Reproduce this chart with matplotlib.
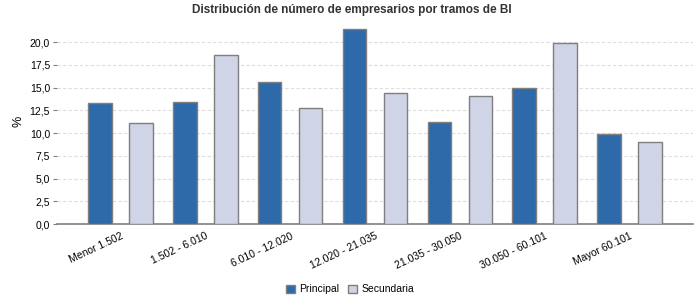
import matplotlib
matplotlib.use("Agg")
import matplotlib.pyplot as plt
import numpy as np
from matplotlib.ticker import FuncFormatter

plt.rcParams['font.family'] = ['Liberation Sans', 'DejaVu Sans']

categories = ["Menor 1.502", "1.502 - 6.010", "6.010 - 12.020", "12.020 - 21.035",
              "21.035 - 30.050", "30.050 - 60.101", "Mayor 60.101"]
principal = [13.3, 13.4, 15.6, 21.4, 11.2, 15.0, 9.9]
secundaria = [11.1, 18.6, 12.8, 14.4, 14.1, 19.9, 9.0]
yticks = [0.0, 2.5, 5.0, 7.5, 10.0, 12.5, 15.0, 17.5, 20.0]
series_names = ["Principal", "Secundaria"]
title = "Distribución de número de empresarios por tramos de BI"

fig = plt.figure(figsize=(7, 3), dpi=100)
ax = fig.add_axes([0.0814, 0.2533, 0.9086, 0.6823])

x = np.arange(len(categories))
w = 0.276
off = 0.242
ax.bar(x - off, principal, width=w, color="#2E69AA", edgecolor="#7f7f7f", linewidth=1, label=series_names[0], zorder=3)
ax.bar(x + off, secundaria, width=w, color="#CFD4E6", edgecolor="#7f7f7f", linewidth=1, label=series_names[1], zorder=3)

ax.set_xlim(-0.75, len(categories) - 0.25)
ax.set_ylim(0, 22.5)
ax.set_yticks(yticks)
ax.yaxis.set_major_formatter(FuncFormatter(lambda v, p: f"{v:.1f}".replace(".", ",")))
ax.grid(axis="y", color="#dddddd", linestyle=(0, (3, 2)), linewidth=0.8, zorder=0)

for s in ["top", "right", "left"]:
    ax.spines[s].set_visible(False)
ax.spines["bottom"].set_color("#7f7f7f")
ax.spines["bottom"].set_linewidth(1.2)
ax.tick_params(axis="y", length=3, color="#7f7f7f", labelsize=7.5, pad=2)
ax.tick_params(axis="x", length=0, labelsize=7.5, pad=5)
ax.set_xticks(x)
ax.set_xticklabels(categories, rotation=25, ha="right", rotation_mode="anchor")
ax.set_ylabel("%", fontsize=9, labelpad=4)

fig.text(0.503, 0.965, title, ha="center", va="center", fontsize=8.5, fontweight="bold", color="#333333")

fig.legend(loc="center", bbox_to_anchor=(0.5, 0.035), ncol=2, frameon=False, fontsize=7.5,
           handlelength=0.9, handleheight=0.9, handletextpad=0.4, columnspacing=0.8)

fig.savefig("out.png", dpi=100)
